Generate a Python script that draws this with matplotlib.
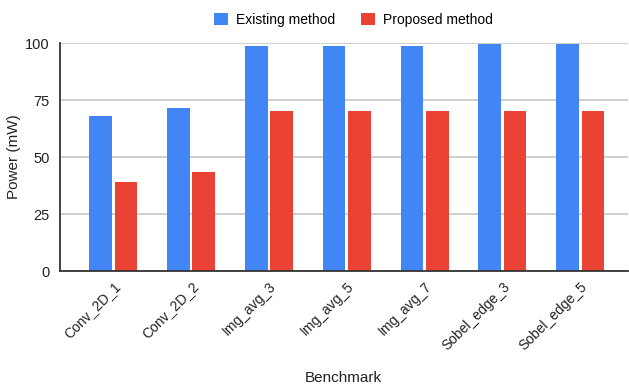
import numpy as np
import matplotlib.pyplot as plt

plt.rcParams['font.family'] = ['Liberation Sans', 'DejaVu Sans']

benchmarks = ["Conv_2D_1", "Conv_2D_2", "Img_avg_3", "Img_avg_5",
              "Img_avg_7", "Sobel_edge_3", "Sobel_edge_5"]
existing = [68.0, 71.6, 98.8, 98.8, 98.8, 99.8, 99.8]
proposed = [39.0, 43.6, 70.2, 70.2, 70.2, 70.2, 70.2]
y_ticks = [0, 25, 50, 75, 100]

blue = "#4285F4"
red = "#EA4335"

fig = plt.figure(figsize=(6.29, 3.85), dpi=100)
ax = fig.add_axes([0.0946, 0.296, 0.9034, 0.592])

x = np.arange(len(benchmarks))
w = 0.29
off = 0.1625
ax.bar(x - off, existing, w, color=blue, label="Existing method", zorder=3)
ax.bar(x + off, proposed, w, color=red, label="Proposed method", zorder=3)

ax.set_xlim(-0.69, 6.61)
ax.set_ylim(0, 100)
ax.set_yticks(y_ticks)
ax.yaxis.grid(True, color="#cccccc", linewidth=1.3, zorder=0)
ax.tick_params(axis='y', length=0, pad=7, labelsize=10.5, labelcolor="#222222")
ax.tick_params(axis='x', length=0, pad=6, labelsize=10, labelcolor="#222222")
ax.set_xticks(x)
ax.set_xticklabels(benchmarks, rotation=45, ha='right', rotation_mode='anchor')

for s in ['top', 'right']:
    ax.spines[s].set_visible(False)
for s in ['left', 'bottom']:
    ax.spines[s].set_color("#333333")
    ax.spines[s].set_linewidth(1.3)
    ax.spines[s].set_zorder(4)

ax.set_ylabel("Power (mW)", fontsize=11, color="#222222", labelpad=3)
ax.set_xlabel("Benchmark", fontsize=11, color="#222222", labelpad=13)

fig.legend(loc='center', bbox_to_anchor=(0.562, 0.948), ncol=2, frameon=False,
           fontsize=10, handlelength=1.0, handleheight=1.0, handletextpad=0.6,
           columnspacing=1.8)

fig.savefig("out.png", dpi=100)
